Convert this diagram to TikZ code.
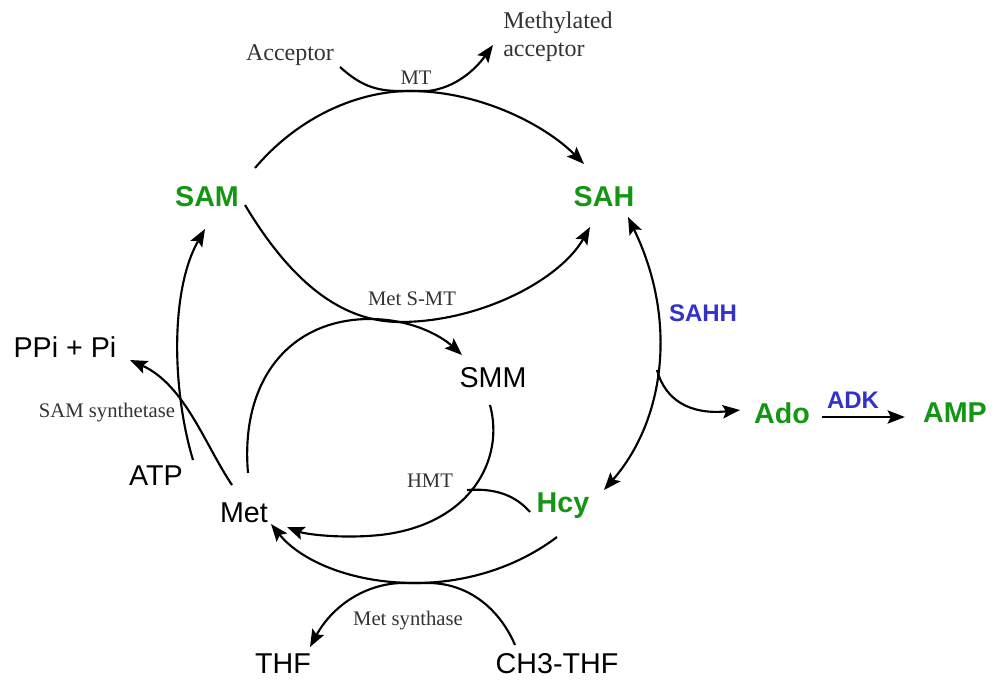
\documentclass[tikz,border=0pt]{standalone}
\usepackage{fontspec}
\setmainfont{Liberation Serif}
\newfontfamily\arial{Liberation Sans}
\usetikzlibrary{arrows.meta}
\definecolor{metgreen}{RGB}{20,150,20}
\definecolor{enzblue}{RGB}{50,50,200}
\begin{document}
\begin{tikzpicture}[x=0.75pt,y=-0.75pt,
 met/.style={font=\arial\bfseries\fontsize{21.5}{24}\selectfont, text=metgreen, inner sep=0pt},
 cmp/.style={font=\arial\fontsize{21.5}{24}\selectfont, inner sep=0pt},
 enz/.style={font=\fontsize{15.5}{17}\selectfont, text=black!80, inner sep=0pt},
 side/.style={font=\fontsize{18}{21}\selectfont, text=black!80, inner sep=0pt, align=left},
 benz/.style={font=\arial\bfseries\fontsize{18}{20}\selectfont, text=enzblue, inner sep=0pt},
 conn/.style={line width=1.6pt},
 tip/.tip={Stealth[length=13pt,width=10pt,inset=2.5pt]},
 arr/.style={conn, -tip},
 darr/.style={conn, tip-tip},
]
\useasboundingbox (0,0) rectangle (995,686);
% metabolites
\node[met] (SAM) at (207,197) {SAM};
\node[met] (SAH) at (604,197) {SAH};
\node[met] (Hcy) at (563,506) {Hcy};
\node[met] (Ado) at (782,413) {Ado};
\node[met] (AMP) at (955,413) {AMP};
\node[cmp] (Met) at (244,513) {Met};
\node[cmp] (SMM) at (493,378) {SMM};
\node[cmp] (ATP) at (156,476) {ATP};
\node[cmp] (PPi) at (65,347) {PPi + Pi};
\node[cmp] (THF) at (283,664) {THF};
\node[cmp] (CH3) at (557,664) {CH3-THF};
\node[side] (Acc) at (290,55) {Acceptor};
\node[side, anchor=west] (MAcc) at (503,37) {Methylated\\acceptor};
% enzymes
\node[enz] (MT) at (416,78) {MT};
\node[enz] (MSMT) at (412,299) {Met S-MT};
\node[enz] (SAMS) at (107,413) {SAM synthetase};
\node[enz] (HMT) at (430,481) {HMT};
\node[enz] (MS) at (408,621) {Met synthase};
\node[benz] (SAHH) at (703,313) {SAHH};
\node[benz] (ADK) at (853,400) {ADK};
% free ends
\coordinate (samTop) at (255,168);
\coordinate (sahTop) at (584,164);
\coordinate (accIn) at (340,67);
\coordinate (maccOut) at (493,45);
\coordinate (samLow) at (245,205);
\coordinate (sahLow) at (590,227);
\coordinate (metUp) at (248,473);
\coordinate (smmIn) at (462,355);
\coordinate (smmOut) at (490,405);
\coordinate (metR) at (287,527);
\coordinate (hcyL) at (530,512);
\coordinate (hmtJ) at (467,490);
\coordinate (hcyB) at (557,537);
\coordinate (metRB) at (271,524);
\coordinate (ch3In) at (515,645);
\coordinate (thfIn) at (310,647);
\coordinate (atpUp) at (193,460);
\coordinate (samIn) at (205,229);
\coordinate (metL) at (232,485);
\coordinate (ppiIn) at (130,360);
\coordinate (hcyIn) at (604,490);
\coordinate (sahIn) at (628,217);
\coordinate (branch) at (657,370);
\coordinate (adoIn) at (740,410);
% MT
\draw[arr] (samTop) .. controls (300,115) and (360,91) .. (410,91) .. controls (480,91) and (545,125) .. (sahTop);
\draw[arr] (accIn) .. controls (360,85) and (375,91) .. (400,91) -- (428,91) .. controls (455,88) and (475,70) .. (maccOut);
% Met S-MT
\draw[arr] (samLow) .. controls (290,280) and (340,322) .. (400,322) .. controls (480,322) and (560,280) .. (sahLow);
\draw[arr] (metUp) .. controls (240,380) and (290,319) .. (370,319) .. controls (410,319) and (440,335) .. (smmIn);
% HMT
\draw[arr] (smmOut) .. controls (505,460) and (470,525) .. (380,535) .. controls (340,539) and (305,534) .. (metR);
\draw[conn] (hcyL) .. controls (515,495) and (495,488) .. (hmtJ);
% Met synthase
\draw[arr] (hcyB) .. controls (520,565) and (470,583) .. (415,583) .. controls (350,583) and (300,560) .. (metRB);
\draw[arr] (ch3In) .. controls (500,610) and (470,584) .. (430,583) -- (400,583) .. controls (360,585) and (330,610) .. (thfIn);
% SAM synthetase
\draw[arr] (atpUp) .. controls (172,390) and (170,290) .. (samIn);
\draw[arr] (metL) .. controls (205,445) and (185,385) .. (ppiIn);
% SAHH
\draw[darr] (hcyIn) .. controls (665,420) and (678,320) .. (sahIn);
\draw[arr] (branch) .. controls (665,400) and (690,415) .. (adoIn);
% ADK
\draw[arr] ([xshift=9pt,yshift=-3pt]Ado.east) -- ([xshift=-13.5pt,yshift=-3pt]AMP.west);
\end{tikzpicture}
\end{document}
